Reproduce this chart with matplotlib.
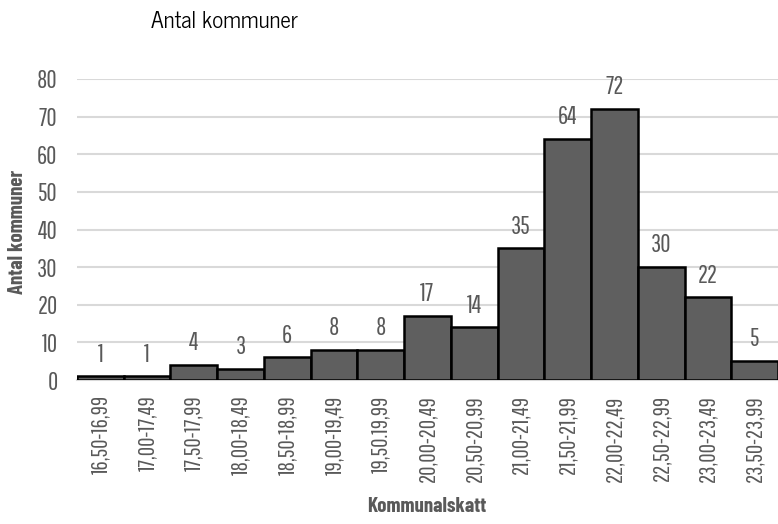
import matplotlib
matplotlib.use("Agg")
import matplotlib.pyplot as plt
from matplotlib import font_manager

intervals = ["16,50-16,99", "17,00-17,49", "17,50-17,99", "18,00-18,49",
             "18,50-18,99", "19,00-19,49", "19,50.19,99", "20,00-20,49",
             "20,50-20,99", "21,00-21,49", "21,50-21,99", "22,00-22,49",
             "22,50-22,99", "23,00-23,49", "23,50-23,99"]
counts = [1, 1, 4, 3, 6, 8, 8, 17, 14, 35, 64, 72, 30, 22, 5]
y_ticks = [0, 10, 20, 30, 40, 50, 60, 70, 80]

installed = {f.name for f in font_manager.fontManager.ttflist}


def pick(*families):
    for fam in families:
        if fam in installed:
            return [fam, "DejaVu Sans"]
    return ["DejaVu Sans"]


narrow = pick("Pathway Gothic One", "Sofia Sans Extra Condensed", "Roboto Condensed")
narrow_bold = pick("Barlow Condensed", "Roboto Condensed")
regular = pick("News Cycle", "Roboto", "Liberation Sans")

text_grey = "#595959"
fig = plt.figure(figsize=(7.78, 5.24), dpi=100)
ax = fig.add_axes([77 / 778, 1 - 380 / 524, 701 / 778, 301 / 524])

x = list(range(len(counts)))
ax.bar(x, counts, width=1.0, color="#5f5f5f", edgecolor="black",
       linewidth=1.8, zorder=3)
for xi, v in zip(x, counts):
    ax.annotate(str(v), (xi, v), xytext=(0, 7), textcoords="offset points",
                ha="center", va="bottom", fontsize=18, color=text_grey,
                family=narrow)

ax.set_xlim(-0.5, len(counts) - 0.5)
ax.set_ylim(0, 80)
ax.set_yticks(y_ticks)
ax.set_yticklabels([str(t) for t in y_ticks], fontsize=18, color=text_grey,
                   family=narrow)
ax.set_xticks(x)
ax.set_xticklabels(intervals, rotation=90, fontsize=16.5, color=text_grey,
                   family=narrow)
ax.tick_params(axis="both", length=0)
ax.tick_params(axis="x", pad=11)
ax.tick_params(axis="y", pad=14)
ax.grid(axis="y", color="#d9d9d9", linewidth=1.5, zorder=0)
for side in ["top", "right", "left"]:
    ax.spines[side].set_visible(False)
ax.spines["bottom"].set_color("#d9d9d9")
ax.spines["bottom"].set_linewidth(1.5)

fig.text(224 / 778, 1 - 22 / 524, "Antal kommuner", ha="center", va="center",
         fontsize=16.5, color="black", family=regular)
fig.text(18 / 778, 1 - 232 / 524, "Antal kommuner", rotation=90, ha="center",
         va="center", fontsize=15, fontweight="bold", color=text_grey,
         family=narrow_bold)
fig.text(427 / 778, 1 - 506 / 524, "Kommunalskatt", ha="center", va="center",
         fontsize=15, fontweight="bold", color=text_grey, family=narrow_bold)

fig.savefig("out.png", dpi=100)
